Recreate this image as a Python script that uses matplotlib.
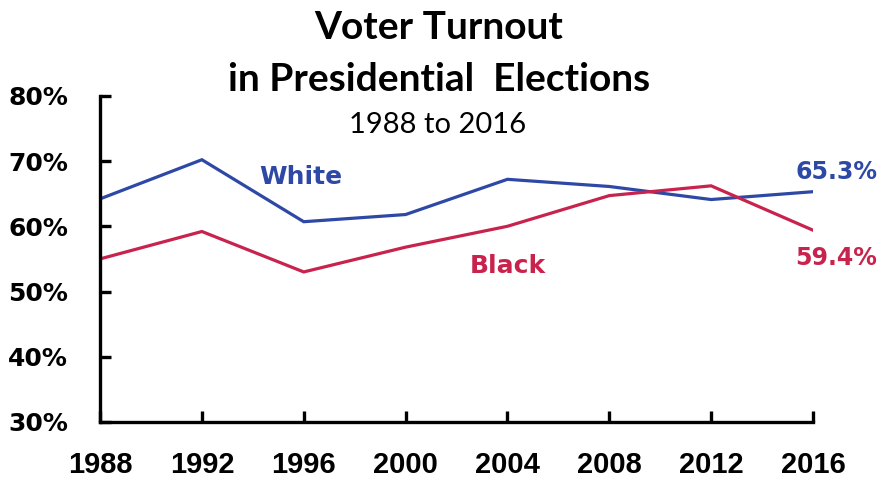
import numpy as np
import matplotlib.pyplot as plt

years = [1988, 1992, 1996, 2000, 2004, 2008, 2012, 2016]
white = [64.2, 70.2, 60.7, 61.8, 67.2, 66.1, 64.1, 65.3]
black = [55.0, 59.2, 53.0, 56.8, 60.0, 64.7, 66.2, 59.4]
yticks = [30, 40, 50, 60, 70, 80]

blue = "#2E48A6"
red = "#C8234D"

fig = plt.figure(figsize=(8.83, 4.79), dpi=100)
ax = fig.add_axes([0.1133, 0.119, 0.8074, 0.681])

ax.plot(years, white, color=blue, lw=2.3, solid_joinstyle="miter")
ax.plot(years, black, color=red, lw=2.3, solid_joinstyle="miter")

ax.set_xlim(1988, 2016)
ax.set_ylim(30, 80)
ax.set_xticks(years)
ax.set_yticks(yticks)
ax.set_yticklabels([f"{v}%" for v in yticks])

for s in ["top", "right"]:
    ax.spines[s].set_visible(False)
for s in ["left", "bottom"]:
    ax.spines[s].set_linewidth(2.4)
    ax.spines[s].set_capstyle("projecting")
ax.tick_params(direction="in", length=8, width=2.4)
ax.tick_params(axis="y", pad=23)
ax.tick_params(axis="x", pad=21)
for lab in ax.get_yticklabels():
    lab.set_family("DejaVu Sans")
    lab.set_fontweight("bold")
    lab.set_fontsize(18)
for lab in ax.get_xticklabels():
    lab.set_family(["Liberation Sans", "DejaVu Sans"])
    lab.set_fontweight("bold")
    lab.set_fontsize(21)

ax.text(1995.9, 67.6, "White", color=blue, fontsize=18, fontweight="bold",
        family="DejaVu Sans", ha="center", va="center")
ax.text(2004.0, 53.9, "Black", color=red, fontsize=18, fontweight="bold",
        family="DejaVu Sans", ha="center", va="center")
ax.text(2015.3, 68.3, f"{white[-1]}%", color=blue, fontsize=17, fontweight="bold",
        family="DejaVu Sans", ha="left", va="center", clip_on=False)
ax.text(2015.3, 55.2, f"{black[-1]}%", color=red, fontsize=17, fontweight="bold",
        family="DejaVu Sans", ha="left", va="center", clip_on=False)

fig.text(0.497, 0.942, "Voter Turnout", fontsize=28, fontweight="bold",
         family=["Lato", "DejaVu Sans"], ha="center", va="center")
fig.text(0.497, 0.833, "in Presidential  Elections", fontsize=28, fontweight="bold",
         family=["Lato", "DejaVu Sans"], ha="center", va="center")
fig.text(0.495, 0.739, "1988 to 2016", fontsize=21,
         family=["Lato", "DejaVu Sans"], ha="center", va="center")

fig.savefig("out.png", dpi=100)
